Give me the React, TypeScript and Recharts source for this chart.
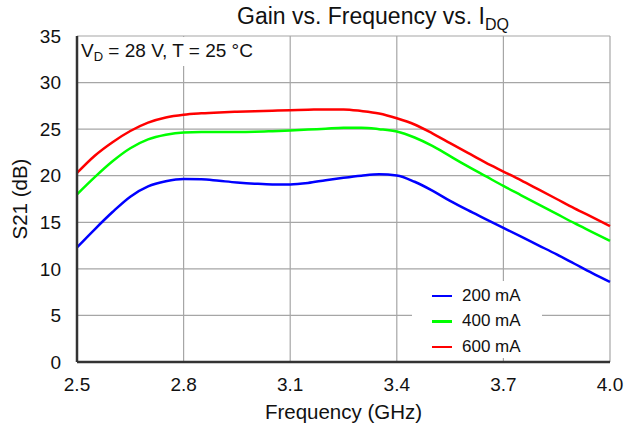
import React from "react";
import { LineChart, Line, XAxis, YAxis, CartesianGrid } from "recharts";

const freq = [2.5, 2.55, 2.6, 2.65, 2.7, 2.75, 2.8, 2.85, 2.9, 2.95, 3.0, 3.05, 3.1, 3.15, 3.2, 3.25, 3.3, 3.35, 3.4, 3.45, 3.5, 3.55, 3.6, 3.65, 3.7, 3.75, 3.8, 3.85, 3.9, 3.95, 4.0];
const gain200 = [12.3, 14.25, 16.1, 17.75, 18.85, 19.4, 19.65, 19.62, 19.45, 19.28, 19.15, 19.07, 19.07, 19.22, 19.52, 19.78, 20.0, 20.15, 20.02, 19.35, 18.4, 17.3, 16.3, 15.35, 14.4, 13.45, 12.5, 11.55, 10.55, 9.55, 8.6];
const gain400 = [18.0, 19.85, 21.55, 22.95, 23.9, 24.4, 24.65, 24.7, 24.7, 24.7, 24.72, 24.78, 24.85, 24.95, 25.05, 25.15, 25.15, 25.0, 24.75, 24.1, 23.2, 22.1, 21.0, 19.95, 18.9, 17.9, 16.9, 15.9, 14.9, 13.95, 13.0];
const gain600 = [20.3, 22.15, 23.6, 24.8, 25.7, 26.25, 26.55, 26.7, 26.8, 26.87, 26.93, 26.98, 27.04, 27.08, 27.12, 27.12, 26.95, 26.68, 26.17, 25.5, 24.55, 23.5, 22.45, 21.4, 20.45, 19.5, 18.5, 17.5, 16.5, 15.55, 14.6];
const xTicks = [2.5, 2.8, 3.1, 3.4, 3.7, 4.0];
const yTicks = [0, 5, 10, 15, 20, 25, 30, 35];
const seriesNames = ["200 mA", "400 mA", "600 mA"];
const seriesColors = ["#0000ff", "#00ff00", "#ff0000"];

const data = freq.map((f, i) => ({ f, a: gain200[i], b: gain400[i], c: gain600[i] }));

const FONT = "'Liberation Sans', Arial, sans-serif";

export default function App() {
  return (
    <div style={{ position: "absolute", left: 0, top: 0, width: 625, height: 427, background: "#fff", fontFamily: FONT }}>
      <LineChart width={625} height={427} data={data} margin={{ top: 36, right: 15, bottom: 0, left: 0 }}>
        <CartesianGrid stroke="#a6a6a6" strokeWidth={1.2} />
        <XAxis
          dataKey="f"
          type="number"
          domain={[2.5, 4.0]}
          ticks={xTicks}
          interval={0}
          tickFormatter={(v: number) => v.toFixed(1)}
          tickSize={0}
          tickMargin={16}
          axisLine={{ stroke: "#333", strokeWidth: 2.5 }}
          tick={{ fill: "#111", fontSize: 19, fontFamily: FONT }}
          label={{ value: "Frequency (GHz)", position: "insideBottom", offset: 8, fill: "#111", fontSize: 20.5, fontFamily: FONT }}
          height={65}
        />
        <XAxis xAxisId="top" orientation="top" dataKey="f" type="number" domain={[2.5, 4.0]} ticks={xTicks} tick={false} tickSize={0} height={0} axisLine={{ stroke: "#333", strokeWidth: 2.5 }} />
        <YAxis
          domain={[0, 35]}
          ticks={yTicks}
          interval={0}
          tickSize={0}
          tickMargin={16}
          width={77}
          axisLine={{ stroke: "#333", strokeWidth: 2.5 }}
          tick={{ fill: "#111", fontSize: 19, fontFamily: FONT }}
          label={{ value: "S21 (dB)", angle: -90, position: "insideLeft", offset: 20, fill: "#111", fontSize: 20.5, fontFamily: FONT, style: { textAnchor: "middle" } }}
        />
        <YAxis yAxisId="right" orientation="right" domain={[0, 35]} ticks={yTicks} tick={false} tickSize={0} width={0} axisLine={{ stroke: "#333", strokeWidth: 2.5 }} />
        <Line type="monotone" dataKey="a" name={seriesNames[0]} stroke={seriesColors[0]} strokeWidth={2.5} dot={false} isAnimationActive={false} />
        <Line type="monotone" dataKey="b" name={seriesNames[1]} stroke={seriesColors[1]} strokeWidth={2.5} dot={false} isAnimationActive={false} />
        <Line type="monotone" dataKey="c" name={seriesNames[2]} stroke={seriesColors[2]} strokeWidth={2.5} dot={false} isAnimationActive={false} />
      </LineChart>
      <div style={{ position: "absolute", left: 412, top: 281, width: 130, height: 77, background: "#fff", fontSize: 17, color: "#111", paddingTop: 2, boxSizing: "border-box" }}>
        {seriesNames.map((n, i) => (
          <div key={n} style={{ display: "flex", alignItems: "center", height: 25.5 }}>
            <div style={{ width: 20, height: 2.5, background: seriesColors[i], marginLeft: 20, marginRight: 10 }} />
            <span>{n}</span>
          </div>
        ))}
      </div>
      <div style={{ position: "absolute", left: 79, top: 37, width: 190, height: 29, background: "#fff", fontSize: 19, lineHeight: "22px", color: "#111", paddingLeft: 2, paddingTop: 3, boxSizing: "border-box", whiteSpace: "nowrap" }}>
        V<sub style={{ fontSize: 13, verticalAlign: -4 }}>D</sub> = 28 V, T = 25 °C
      </div>
      <div style={{ position: "absolute", left: 0, top: 3, width: 746, textAlign: "center", fontSize: 23, color: "#111", whiteSpace: "nowrap" }}>
        Gain vs. Frequency vs. I<sub style={{ fontSize: 16, verticalAlign: -6 }}>DQ</sub>
      </div>
    </div>
  );
}
